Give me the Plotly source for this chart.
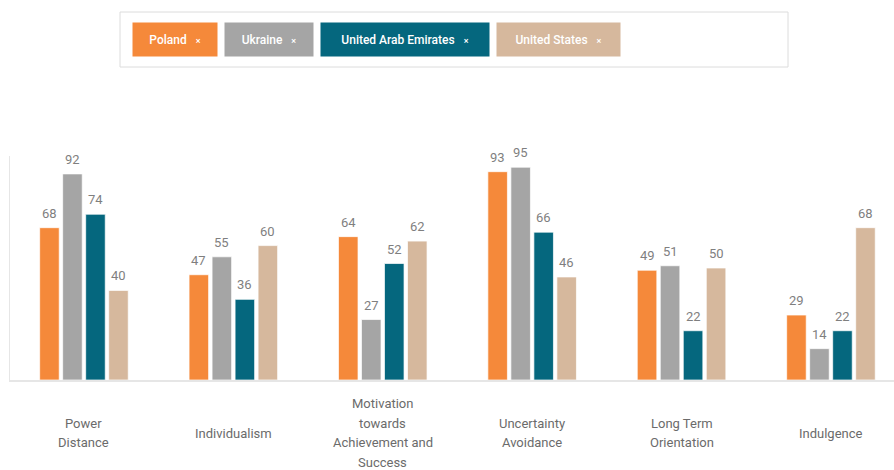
import plotly.graph_objects as go

categories = ["Power Distance", "Individualism", "Motivation towards Achievement and Success",
              "Uncertainty Avoidance", "Long Term Orientation", "Indulgence"]
category_labels = [["Power", "Distance"], ["Individualism"],
                   ["Motivation", "towards", "Achievement and", "Success"],
                   ["Uncertainty", "Avoidance"], ["Long Term", "Orientation"], ["Indulgence"]]
series_names = ["Poland", "Ukraine", "United Arab Emirates", "United States"]
poland = [68, 47, 64, 93, 49, 29]
ukraine = [92, 55, 27, 95, 51, 14]
uae = [74, 36, 52, 66, 22, 22]
usa = [40, 60, 62, 46, 50, 68]
series_values = [poland, ukraine, uae, usa]
colors = ["#F5893A", "#A5A5A5", "#05677E", "#D6B89D"]

W, H = 894, 470
ML, MR, MT, MB = 10, 0, 156, 90
pw, ph = W - ML - MR, H - MT - MB
X_RANGE = [-0.495, 5.422]
BARGAP = 0.384
LINE_H = 19.5

def px_x(x):
    return (x - ML) / pw

def px_y(y):
    return (H - MB - y) / ph

fig = go.Figure()
for name, vals, col in zip(series_names, series_values, colors):
    fig.add_trace(go.Bar(
        x=categories, y=vals, name=name,
        marker=dict(color=col, line=dict(color="rgba(255,255,255,0.7)", width=1)),
        cliponaxis=False,
    ))

annotations = []
# value labels above bars
cat_px = pw / (X_RANGE[1] - X_RANGE[0])
slot = (1 - BARGAP) * cat_px / len(series_names)
for i, vals in enumerate(series_values):
    for cat, v in zip(categories, vals):
        annotations.append(dict(
            x=cat, xref="x", y=v, yref="y", text=str(v), showarrow=False,
            xanchor="center", yanchor="bottom",
            xshift=(i - (len(series_names) - 1) / 2) * slot, yshift=5,
            font=dict(family="Roboto", size=13, color="#7f7f7f"),
        ))

# category labels, vertically centred, one annotation per line
for cat, lines in zip(categories, category_labels):
    n = len(lines)
    for j, line in enumerate(lines):
        annotations.append(dict(
            x=cat, xref="x", y=px_y(433), yref="paper", text=line, showarrow=False,
            xanchor="center", yanchor="middle", yshift=-(j - (n - 1) / 2) * LINE_H,
            font=dict(family="Roboto", size=13, color="#6b6b6b"), borderpad=0,
        ))

# custom legend chips
chip_boxes = [(133, 217), (225, 313), (321, 489), (497, 620)]
for name, col, (x0, x1) in zip(series_names, colors, chip_boxes):
    annotations.append(dict(
        x=px_x((x0 + x1) / 2), xref="paper", y=px_y(39.5), yref="paper",
        xanchor="center", yanchor="middle", showarrow=False,
        text=f"{name}   <span style='font-size:9px'>×</span>",
        font=dict(family="Roboto", size=12, color="white", weight=500),
        bgcolor=col, width=x1 - x0, height=33, borderpad=0, align="center",
    ))

shapes = [dict(type="rect", xref="paper", yref="paper",
               x0=px_x(120), x1=px_x(788), y0=px_y(67), y1=px_y(12),
               line=dict(color="#dcdcdc", width=1), fillcolor="rgba(0,0,0,0)", layer="below")]

fig.update_layout(
    width=W, height=H,
    margin=dict(l=ML, r=MR, t=MT, b=MB),
    paper_bgcolor="white", plot_bgcolor="white",
    barmode="group", bargap=BARGAP, bargroupgap=0.15,
    showlegend=False,
    annotations=annotations, shapes=shapes,
    xaxis=dict(range=X_RANGE, showticklabels=False, showline=True, linecolor="#e6e6e6", linewidth=2,
               showgrid=False, ticks=""),
    yaxis=dict(range=[0, 100], showticklabels=False, showline=True, linecolor="#e6e6e6",
               linewidth=1, showgrid=False, zeroline=False, ticks=""),
    font=dict(family="Roboto"),
)

fig.write_html("out.html")
